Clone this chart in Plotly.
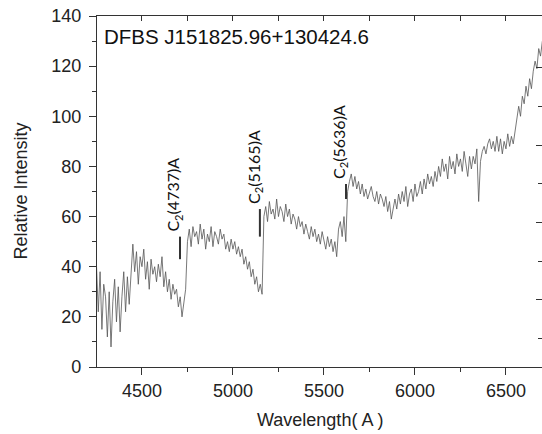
import plotly.graph_objects as go

# Wavelength grid (Angstrom), 10 A sampling from 4250 to 6700
wl_start, wl_step = 4250, 10

seg_blue = [41, 22, 38, 15, 33, 28, 12, 30, 8, 26, 35, 18, 32, 14, 28, 38, 22, 36, 25, 40]
seg_4450 = [49, 38, 46, 33, 44, 40, 47, 35, 42, 31, 43, 37, 40, 34, 41, 36, 44, 32, 38, 30,
            35, 27, 33, 29, 31, 24, 28, 20, 26, 31]
seg_4750 = [50, 55, 48, 56, 52, 54, 49, 57, 51, 55, 47, 53, 50, 56, 48, 54, 52, 49, 55, 51,
            53, 47, 50, 46, 51, 47, 50, 45, 48, 44, 47, 41, 44, 39, 42, 36, 39, 33, 36, 30, 33]
seg_5160 = [29, 60, 64, 58, 66, 61, 63, 59, 67, 60, 64, 62, 58, 65, 60, 63, 57, 61, 59, 55,
            60, 56, 58, 53, 57, 54, 51, 56, 52, 55, 50, 53, 49, 54, 50, 47, 52, 48, 51, 46,
            50, 44, 55, 58, 52, 60, 50]
seg_5630 = [70, 74, 77, 72, 76, 71, 74, 69, 73, 68, 71, 67, 70, 72, 68, 66, 70, 65, 69, 67,
            64, 68, 62, 66, 59, 64, 67, 63, 69, 65, 70, 66, 72, 64, 69, 71, 66, 73, 68, 70,
            74, 69, 75, 71, 77, 73, 76, 72]
seg_6110 = [78, 74, 80, 76, 83, 78, 81, 75, 84, 79, 82, 77, 85, 80, 83, 78, 86, 81, 76, 84,
            79, 84, 81, 87, 66, 82, 86, 88, 85, 89, 91, 87, 90, 86, 92]
seg_6460 = [86, 91, 85, 90, 87, 93, 88, 92, 89, 94, 97, 104, 100, 108, 105, 112, 108, 115,
            111, 118, 122, 119, 127, 124, 130]

intensity = seg_blue + seg_4450 + seg_4750 + seg_5160 + seg_5630 + seg_6110 + seg_6460
wavelength = [wl_start + wl_step * i for i in range(len(intensity))]

# C2 band markers
band_labels = ["C<sub>2</sub>(4737)A", "C<sub>2</sub>(5165)A", "C<sub>2</sub>(5636)A"]
band_wl = [4709, 5148, 5621]
band_lo = [43, 52, 67]
band_hi = [52, 63, 73]

x_ticks = [4500, 5000, 5500, 6000, 6500]
y_ticks = [0, 20, 40, 60, 80, 100, 120, 140]

fig = go.Figure()
fig.add_trace(go.Scatter(x=wavelength, y=intensity, mode="lines",
                         line=dict(color="#555555", width=0.8), showlegend=False,
                         hoverinfo="skip"))
# invisible trace for mirror axes
fig.add_trace(go.Scatter(x=[None], y=[None], xaxis="x2", yaxis="y2", showlegend=False))

for wl, lo, hi, lab in zip(band_wl, band_lo, band_hi, band_labels):
    fig.add_shape(type="line", x0=wl, x1=wl, y0=lo, y1=hi, xref="x", yref="y",
                  line=dict(color="#333333", width=2))
    fig.add_annotation(x=wl, y=hi, xref="x", yref="y", text=lab, showarrow=False,
                       textangle=-90, xanchor="center", yanchor="bottom", yshift=3, xshift=-6,
                       font=dict(family="Lato", size=16, color="#111111"))

fig.add_annotation(x=0.011, y=0.943, xref="paper", yref="paper", xanchor="left",
                   yanchor="middle", text="DFBS J151825.96+130424.6", showarrow=False,
                   font=dict(family="Liberation Sans, Arial", size=20.5, color="#111111"))
fig.add_annotation(x=0.501, y=0, xref="paper", yref="paper", yshift=-53,
                   xanchor="center", yanchor="middle", text="Wavelength( A )", showarrow=False,
                   font=dict(family="Liberation Sans, Arial", size=18, color="#222222"))
fig.add_annotation(x=0, y=0.5, xref="paper", yref="paper", xshift=-77,
                   xanchor="center", yanchor="middle", text="Relative Intensity", showarrow=False,
                   textangle=-90,
                   font=dict(family="Liberation Sans, Arial", size=18, color="#222222"))

axis_font = dict(family="Liberation Sans, Arial", size=18, color="#222222")
fig.update_layout(
    width=542, height=434,
    margin=dict(l=97, r=0, t=16, b=67),
    paper_bgcolor="white", plot_bgcolor="white",
    xaxis=dict(range=[4253, 6698], tickvals=x_ticks, ticks="outside", ticklen=7,
               tickwidth=1.2, tickcolor="#333333", showline=True, linecolor="#333333",
               linewidth=1.4, showgrid=False, zeroline=False, tickfont=axis_font,
               minor=dict(dtick=250, tick0=4250, ticks="outside", ticklen=4,
                          tickcolor="#333333", tickwidth=1.2, showgrid=False)),
    yaxis=dict(range=[0, 140], tickvals=y_ticks, ticks="outside", ticklen=7,
               tickwidth=1.2, tickcolor="#333333", showline=True, linecolor="#333333",
               linewidth=1.4, showgrid=False, zeroline=False, tickfont=axis_font,
               ticklabelstandoff=4,
               minor=dict(dtick=10, tick0=0, ticks="outside", ticklen=4,
                          tickcolor="#333333", tickwidth=1.2, showgrid=False)),
    xaxis2=dict(range=[4253, 6698], overlaying="x", side="top", tickvals=x_ticks,
                ticks="inside", ticklen=5, tickwidth=1.2, tickcolor="#333333",
                showticklabels=False, showline=True, linecolor="#333333", linewidth=1.4,
                showgrid=False, zeroline=False,
                minor=dict(dtick=250, tick0=4250, ticks="inside", ticklen=5,
                           tickcolor="#333333", tickwidth=1.2, showgrid=False)),
    yaxis2=dict(range=[0, 1], overlaying="y", side="right",
                tickvals=[0.852, 0.632, 0.412, 0.192],
                ticks="inside", ticklen=6, tickwidth=1.2, tickcolor="#333333",
                showticklabels=False, showline=False, showgrid=False, zeroline=False,
                minor=dict(tickvals=[0.742, 0.522, 0.302, 0.082], ticks="inside", ticklen=4,
                           tickcolor="#333333", tickwidth=1.2, showgrid=False)),
)

fig.write_html("out.html", config={"displayModeBar": False},
               post_script="document.body.style.margin='0px';")
